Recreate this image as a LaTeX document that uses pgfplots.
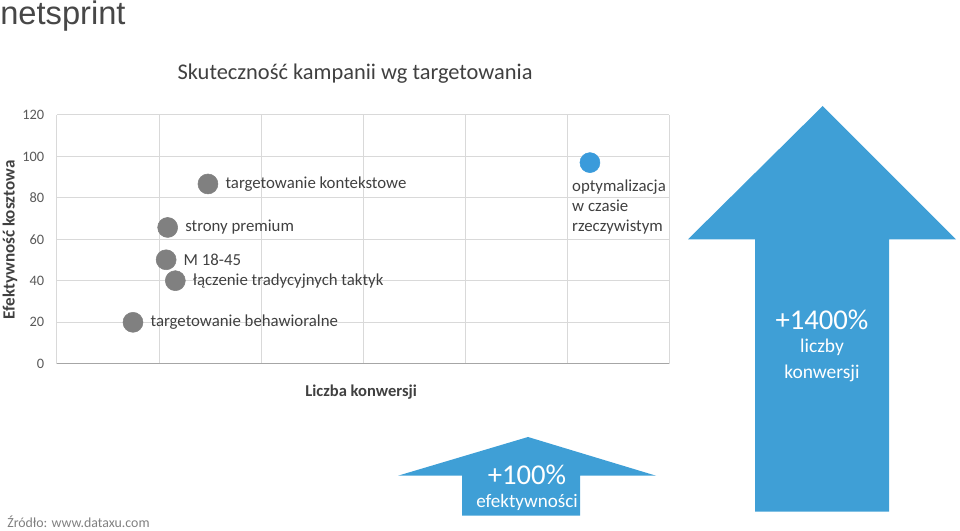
\documentclass[border=0pt]{standalone}
\usepackage{pgfplots}
\pgfplotsset{compat=1.18}
\usepackage{fontspec}
\setmainfont{Carlito}
\newfontfamily\logofont{Liberation Sans}
\definecolor{gridc}{HTML}{D9D9D9}
\definecolor{axisc}{HTML}{A6A6A6}
\definecolor{txt}{HTML}{404040}
\definecolor{tick}{HTML}{595959}
\definecolor{dot}{HTML}{808080}
\definecolor{bluedot}{HTML}{3A9BDB}
\definecolor{arrowc}{HTML}{3F9FD6}
\begin{document}
\begin{tikzpicture}[x=0.75pt,y=0.75pt]
% page = 960 x 531 px, y counted from the bottom
\path[use as bounding box] (0,0) rectangle (960,531);

\node[anchor=base west,inner sep=0pt,text=black!72,font=\logofont\fontsize{24.5}{26}\selectfont] at (0,506) {netsprint};
\node[anchor=base west,inner sep=0pt,text=black!50,font=\fontsize{10.4}{12}\selectfont] at (7,3) {Źródło: www.dataxu.com};

\begin{axis}[
    at={(42.75pt,125.6pt)}, anchor=south west,
    scale only axis, width=459pt, height=186.4pt,
    xmin=0, xmax=6, ymin=0, ymax=120,
    xtick={0,...,6}, xticklabel=\empty,
    ytick={0,20,...,120},
    grid=major, major grid style={gridc, line width=0.75pt},
    axis x line*=bottom, axis y line*=left,
    x axis line style={axisc, line width=0.75pt, -},
    y axis line style={gridc, line width=0.75pt, -},
    major tick length=0pt,
    /pgf/number format/assume math mode=true,
    yticklabel style={font=\fontsize{10.8}{12}\selectfont, text=tick, xshift=-6pt},
    clip=false,
    title={Skuteczność kampanii wg targetowania},
    title style={at={(axis description cs:0.487,1.135)}, anchor=center,
        font=\fontsize{16.8}{19}\selectfont, text=txt},
    xlabel={Liczba konwersji},
    xlabel style={at={(axis description cs:0.497,-0.115)}, anchor=center,
        font=\bfseries\fontsize{12.4}{14}\selectfont, text=txt},
    ylabel={Efektywność kosztowa},
    ylabel style={at={(axis description cs:-0.077,0.497)}, anchor=center, rotate=0,
        font=\bfseries\fontsize{12.8}{14}\selectfont, text=txt},
]
\addplot[dot, only marks, mark=*, mark size=7.5pt, mark options={fill=dot, draw=dot},
    point meta=explicit symbolic, nodes near coords,
    every node near coord/.append style={anchor=west, xshift=11pt, inner sep=2pt,
        font=\fontsize{12.6}{14}\selectfont, text=txt}]
coordinates {
    (1.48,86.7) [targetowanie kontekstowe]
    (1.085,65.7) [strony premium]
    (1.07,50.1) [M 18-45]
    (1.16,40.0) [łączenie tradycyjnych taktyk]
    (0.745,19.9) [targetowanie behawioralne]
};
\addplot[bluedot, only marks, mark=*, mark size=7.5pt, mark options={fill=bluedot, draw=bluedot}]
coordinates {(5.225,97)};
\node[anchor=north west, align=left, inner sep=2pt, xshift=-15.5pt, yshift=-10.5pt,
    font=\fontsize{12.6}{15}\selectfont, text=txt]
    at (axis cs:5.225,97) {optymalizacja\\w czasie\\rzeczywistym};
\end{axis}

% big arrow
\fill[arrowc] (755,19.3) -- (755,291.7) -- (688,291.7) -- (822.7,425) -- (956,291.7)
    -- (889,291.7) -- (889,19.3) -- cycle;
\node[text=white,font=\fontsize{21.5}{24}\selectfont] at (822,211) {+1400\%};
\node[text=white,font=\fontsize{14.6}{16}\selectfont] at (822,184) {liczby};
\node[text=white,font=\fontsize{14.6}{16}\selectfont] at (822,158) {konwersji};

% small arrow
\fill[arrowc] (462,15.3) -- (462,55.3) -- (398,55.3) -- (528,94) -- (656,55.3)
    -- (580,55.3) -- (580,15.3) -- cycle;
\node[text=white,font=\fontsize{21.5}{24}\selectfont] at (527,56) {+100\%};
\node[text=white,font=\fontsize{14.3}{16}\selectfont] at (527,29) {efektywności};
\end{tikzpicture}
\end{document}
